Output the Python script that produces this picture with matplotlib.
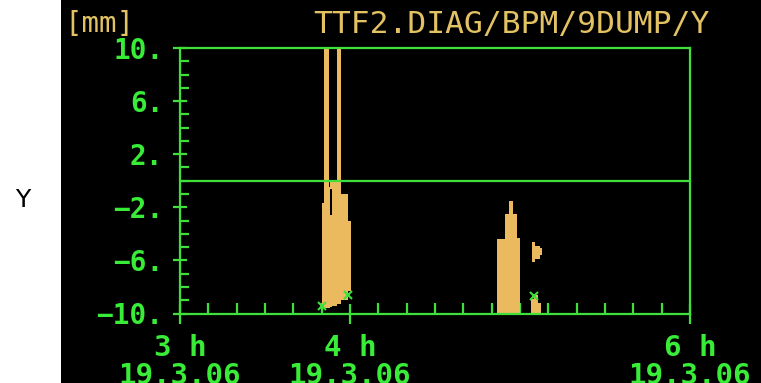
import matplotlib
matplotlib.use("Agg")
import matplotlib.pyplot as plt
from matplotlib.patches import Rectangle
from matplotlib.ticker import MultipleLocator, FixedLocator
import numpy as np

# Beam position envelope: each column is [start h, end h, min mm, max mm]
col_start = [3.835, 3.847, 3.877, 3.883, 3.883, 3.893, 3.924, 3.947, 3.990,
             4.865, 4.912, 4.935, 4.959, 4.982,
             5.071, 5.088, 5.118,
             5.062, 5.080, 5.105]
col_end = [3.847, 3.877, 3.883, 3.893, 3.893, 3.924, 3.947, 3.990, 4.004,
           4.912, 4.935, 4.959, 4.982, 5.000,
           5.088, 5.118, 5.129,
           5.080, 5.105, 5.122]
col_low = [-9.3, -9.6, -9.6, -9.5, -0.6, -9.4, -9.3, -9.0, -8.3,
           -10.0, -10.0, -10.0, -10.0, -10.0,
           -6.1, -5.9, -5.6,
           -10.0, -10.0, -10.0]
col_high = [-1.7, 12.0, -0.5, -2.6, 0.0, 0.0, 12.0, -1.0, -3.0,
            -4.4, -2.5, -1.5, -2.5, -4.3,
            -4.6, -4.9, -5.1,
            -8.9, -8.6, -9.2]

# Flagged samples
flag_t = [3.838, 3.990, 5.085]
flag_y = [-9.4, -8.6, -8.7]

y_major = [10, 6, 2, -2, -6, -10]
x_major = [3, 4, 6]
x_labels = ["3 h\n19.3.06", "4 h\n19.3.06", "6 h\n19.3.06"]

GREEN = "#3fe03a"
TEXT_GREEN = "#38ec38"
GOLD = "#ebb95e"
TITLE_GOLD = "#e3c263"

W, H = 761, 383
fig = plt.figure(figsize=(W / 100, H / 100), dpi=100, facecolor="white")
fig.add_artist(Rectangle((61 / W, 0), 1 - 61 / W, 1, transform=fig.transFigure,
                         facecolor="black", edgecolor="none", zorder=0))

ax = fig.add_axes([180 / W, 1 - 313.5 / H, 510 / W, 265.5 / H])
ax.set_facecolor("black")
ax.set_zorder(1)

lo = np.array(col_low)
hi = np.array(col_high)
st = np.array(col_start)
en = np.array(col_end)
ax.bar(st, hi - lo, bottom=lo, width=en - st, align="edge",
       color=GOLD, linewidth=0, zorder=2)
ax.plot(flag_t, flag_y, linestyle="none", marker="x", markersize=6,
        markeredgewidth=1.5, color=GREEN, zorder=3)

ax.axhline(0, color=GREEN, linewidth=1.6, zorder=4)

ax.set_xlim(3, 6)
ax.set_ylim(-10, 10)

for s in ax.spines.values():
    s.set_color(GREEN)
    s.set_linewidth(1.6)
    s.set_zorder(5)

mono = "DejaVu Sans Mono"
ax.yaxis.set_major_locator(FixedLocator(y_major))
ax.yaxis.set_minor_locator(MultipleLocator(1))
ax.set_yticklabels([f"{v}.".replace("-", "\u2212") for v in y_major],
                   family=mono, fontweight="bold", fontsize=20,
                   color=TEXT_GREEN)
ax.xaxis.set_major_locator(FixedLocator(x_major))
ax.xaxis.set_minor_locator(MultipleLocator(1 / 6))
ax.set_xticklabels(x_labels, family=mono, fontweight="bold",
                   fontsize=21, color=TEXT_GREEN, linespacing=1.0)

ax.tick_params(axis="y", which="major", direction="inout", length=10,
               width=1.6, color=GREEN, pad=7)
ax.tick_params(axis="y", which="minor", direction="in", length=6.5,
               width=1.6, color=GREEN)
ax.tick_params(axis="x", which="major", direction="inout", length=14,
               width=1.6, color=GREEN, pad=8)
ax.tick_params(axis="x", which="minor", direction="in", length=8,
               width=1.6, color=GREEN)

fig.text(64 / W, 1 - 24 / H, "[mm]", family=mono, fontsize=21,
         color=TITLE_GOLD, ha="left", va="center")
fig.text(710 / W, 1 - 24 / H, "TTF2.DIAG/BPM/9DUMP/Y", family=mono,
         fontsize=22.5, color=TITLE_GOLD, ha="right", va="center")
fig.text(23 / W, 1 - 200 / H, "Y", fontsize=18, color="black",
         ha="center", va="center")

fig.savefig("out.png", dpi=100, facecolor=fig.get_facecolor())
